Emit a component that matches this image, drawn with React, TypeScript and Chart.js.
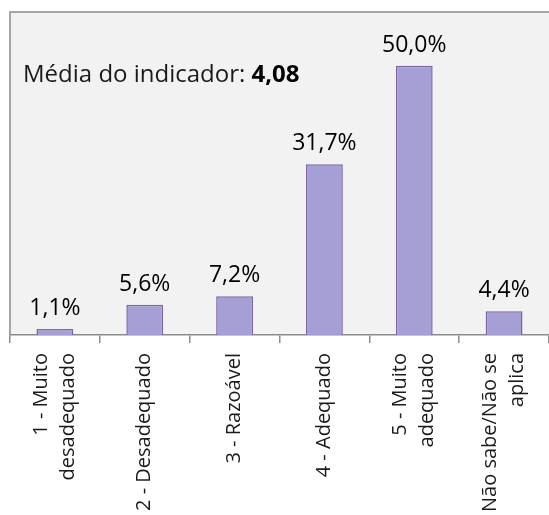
import React, { useEffect, useRef } from "react";
import { Chart, registerables } from "chart.js";

Chart.register(...registerables);

const categories: (string | string[])[] = [
  ["1 - Muito", "desadequado"],
  "2 - Desadequado",
  "3 - Razoável",
  "4 - Adequado",
  ["5 - Muito", "adequado"],
  ["Não sabe/Não se", "aplica"],
];
const values = [1.1, 5.6, 7.2, 31.7, 50.0, 4.4];
const valueLabels = ["1,1%", "5,6%", "7,2%", "31,7%", "50,0%", "4,4%"];
const noteLabel = "Média do indicador: ";
const noteValue = "4,08";
const yMax = 60;

const FONT = "'Open Sans', 'DejaVu Sans', sans-serif";
const LINE_H = 27;

export default function App() {
  const ref = useRef<HTMLCanvasElement | null>(null);

  useEffect(() => {
    if (!ref.current) return;
    const bgPlugin = {
      id: "bgPlugin",
      beforeDraw(chart: any) {
        const { ctx, chartArea } = chart;
        ctx.save();
        ctx.fillStyle = "#f2f2f2";
        ctx.fillRect(chartArea.left, chartArea.top, chartArea.right - chartArea.left + 2, chartArea.bottom - chartArea.top);
        ctx.strokeStyle = "#8c8c8c";
        ctx.lineWidth = 1.5;
        ctx.beginPath();
        ctx.moveTo(chartArea.left, chartArea.bottom);
        ctx.lineTo(chartArea.left, chartArea.top);
        ctx.lineTo(chartArea.right + 2, chartArea.top);
        ctx.stroke();
        ctx.restore();
      },
      afterDatasetsDraw(chart: any) {
        const { ctx } = chart;
        const meta = chart.getDatasetMeta(0);
        ctx.save();
        ctx.fillStyle = "#000";
        ctx.font = `23px ${FONT}`;
        ctx.textAlign = "center";
        ctx.textBaseline = "alphabetic";
        meta.data.forEach((bar: any, i: number) => {
          ctx.fillText(valueLabels[i], bar.x, bar.y - 14);
        });
        ctx.textAlign = "left";
        ctx.font = `24px ${FONT}`;
        const x0 = chart.chartArea.left + 13;
        const y0 = 82;
        ctx.fillStyle = "#1a1a1a";
        ctx.fillText(noteLabel, x0, y0);
        const w = ctx.measureText(noteLabel).width;
        ctx.font = `bold 24px ${FONT}`;
        ctx.fillStyle = "#000";
        ctx.fillText(noteValue, x0 + w, y0);
        ctx.restore();
      },
    };

    const chart = new Chart(ref.current, {
      type: "bar",
      data: {
        labels: categories,
        datasets: [
          {
            data: values,
            backgroundColor: "#a49fd5",
            borderColor: "#8064a2",
            borderWidth: 1.5,
            barPercentage: 0.41,
            categoryPercentage: 1,
          },
        ],
      },
      options: {
        animation: false,
        responsive: false,
        maintainAspectRatio: false,
        layout: { padding: { left: 10, top: 12, right: 0, bottom: 0 } },
        plugins: {
          legend: { display: false },
          tooltip: { enabled: false },
        },
        scales: {
          x: {
            offset: true,
            grid: {
              display: true,
              offset: true,
              drawOnChartArea: false,
              drawTicks: true,
              tickLength: 8,
              color: "#8c8c8c",
              lineWidth: 1.5,
            },
            border: { display: true, color: "#8c8c8c", width: 1.5 },
            ticks: {
              minRotation: 90,
              maxRotation: 90,
              autoSkip: false,
              padding: 10,
              labelOffset: -LINE_H / 2,
              color: "#1a1a1a",
              callback: (_v: any, i: number) => {
                const c = categories[i];
                return Array.isArray(c) ? c : ["", c];
              },
              font: (ctx: any) => {
                const c = categories[ctx.index];
                return {
                  family: FONT,
                  size: 20,
                  lineHeight: Array.isArray(c) ? LINE_H + "px" : LINE_H / 2 + "px",
                };
              },
            },
            afterFit(scale: any) {
              scale.height = 180;
              scale.paddingLeft = 0;
              scale.paddingRight = 0;
            },
          },
          y: {
            display: false,
            min: 0,
            max: yMax,
          },
        },
      },
      plugins: [bgPlugin],
    });
    return () => chart.destroy();
  }, []);

  return (
    <div style={{ position: "absolute", left: 0, top: 0, width: 549, height: 515, background: "#fff" }}>
      <canvas ref={ref} width={549} height={515} style={{ width: 549, height: 515 }} />
    </div>
  );
}
